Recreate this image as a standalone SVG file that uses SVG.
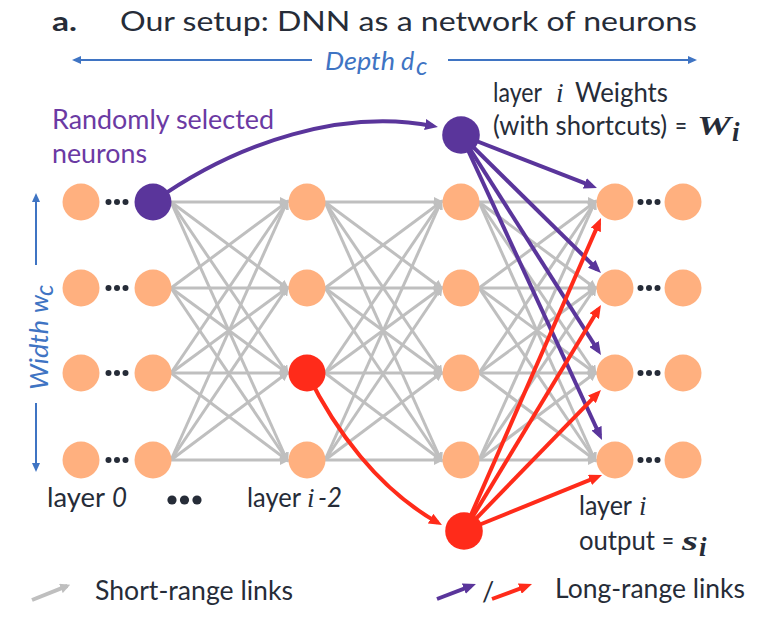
<svg xmlns="http://www.w3.org/2000/svg" width="759" height="618" viewBox="0 0 759 618">
<defs>
<style>
.t{font-family:Lato,"Liberation Sans",sans-serif;fill:#262C38;font-size:27px}
.m{font-family:"Liberation Serif","DejaVu Serif",serif;font-style:italic}
.b{font-weight:bold}
.pt{fill:#6B3AA3}
.bt{fill:#3F74C3;font-style:italic;font-size:25px}
.o{fill:#FFB07F}
.pn{fill:#5A359B}
.rn{fill:#FF2B1A}
.dot{fill:#262C38}
.g line{stroke:#BFBFBF;stroke-width:3;marker-end:url(#ag)}
.pl{stroke:#5A359B;stroke-width:4;fill:none;marker-end:url(#ap)}
.rl{stroke:#FF2B1A;stroke-width:4;fill:none;marker-end:url(#ar)}
.bl{stroke:#3F74C3;stroke-width:2;fill:none}
</style>
<marker id="ag" viewBox="0 0 10 10" refX="7" refY="5" markerWidth="10" markerHeight="10" markerUnits="userSpaceOnUse" orient="auto"><path d="M0,0 L10,5 L0,10 z" fill="#BFBFBF"/></marker>
<marker id="ap" viewBox="0 0 13 11" refX="8" refY="5.5" markerWidth="13" markerHeight="11" markerUnits="userSpaceOnUse" orient="auto"><path d="M0,0 L13,5.5 L0,11 z" fill="#5A359B"/></marker>
<marker id="ar" viewBox="0 0 13 11" refX="8" refY="5.5" markerWidth="13" markerHeight="11" markerUnits="userSpaceOnUse" orient="auto"><path d="M0,0 L13,5.5 L0,11 z" fill="#FF2B1A"/></marker>
<marker id="ab" viewBox="0 0 9 8" refX="7" refY="4" markerWidth="9" markerHeight="8" markerUnits="userSpaceOnUse" orient="auto-start-reverse"><path d="M0,0 L9,4 L0,8 z" fill="#3F74C3"/></marker>
</defs>
<rect width="759" height="618" fill="#fff"/>

<g id="title">
<text class="t b" x="52" y="31" font-size="32" textLength="25" lengthAdjust="spacingAndGlyphs">a.</text>
<text class="t" x="120" y="31" font-size="32" textLength="577" lengthAdjust="spacingAndGlyphs">Our setup: DNN as a network of neurons</text>
</g>

<g id="depth">
<line class="bl" x1="74" y1="60" x2="312" y2="60" marker-start="url(#ab)"/>
<line class="bl" x1="448" y1="60" x2="695" y2="60" marker-end="url(#ab)"/>
<text class="t bt" x="325" y="70" textLength="70" lengthAdjust="spacingAndGlyphs">Depth</text>
<text class="t bt" x="401" y="70">d</text>
<text class="t bt" x="416" y="75" font-size="17">c</text>
</g>

<g id="width">
<line class="bl" x1="36" y1="265" x2="36" y2="195" marker-end="url(#ab)"/>
<line class="bl" x1="36" y1="403" x2="36" y2="470" marker-end="url(#ab)"/>
<g transform="translate(48,390) rotate(-90)">
<text class="t bt" x="0" y="0" textLength="70" lengthAdjust="spacingAndGlyphs">Width</text>
<text class="t bt" x="77" y="0">w</text>
<text class="t bt" x="94" y="5" font-size="17">c</text>
</g>
</g>

<g id="connectors">
<g class="g">
<line x1="171" y1="202" x2="287" y2="202"/><line x1="171" y1="202" x2="287" y2="288"/><line x1="171" y1="202" x2="287" y2="373"/><line x1="171" y1="202" x2="287" y2="460"/>
<line x1="171" y1="288" x2="287" y2="202"/><line x1="171" y1="288" x2="287" y2="288"/><line x1="171" y1="288" x2="287" y2="373"/><line x1="171" y1="288" x2="287" y2="460"/>
<line x1="171" y1="373" x2="287" y2="202"/><line x1="171" y1="373" x2="287" y2="288"/><line x1="171" y1="373" x2="287" y2="373"/><line x1="171" y1="373" x2="287" y2="460"/>
<line x1="171" y1="460" x2="287" y2="202"/><line x1="171" y1="460" x2="287" y2="288"/><line x1="171" y1="460" x2="287" y2="373"/><line x1="171" y1="460" x2="287" y2="460"/>

<line x1="325" y1="202" x2="441" y2="202"/><line x1="325" y1="202" x2="441" y2="288"/><line x1="325" y1="202" x2="441" y2="373"/><line x1="325" y1="202" x2="441" y2="460"/>
<line x1="325" y1="288" x2="441" y2="202"/><line x1="325" y1="288" x2="441" y2="288"/><line x1="325" y1="288" x2="441" y2="373"/><line x1="325" y1="288" x2="441" y2="460"/>
<line x1="325" y1="373" x2="441" y2="202"/><line x1="325" y1="373" x2="441" y2="288"/><line x1="325" y1="373" x2="441" y2="373"/><line x1="325" y1="373" x2="441" y2="460"/>
<line x1="325" y1="460" x2="441" y2="202"/><line x1="325" y1="460" x2="441" y2="288"/><line x1="325" y1="460" x2="441" y2="373"/><line x1="325" y1="460" x2="441" y2="460"/>

<line x1="479" y1="202" x2="595" y2="202"/><line x1="479" y1="202" x2="595" y2="288"/><line x1="479" y1="202" x2="595" y2="373"/><line x1="479" y1="202" x2="595" y2="460"/>
<line x1="479" y1="288" x2="595" y2="202"/><line x1="479" y1="288" x2="595" y2="288"/><line x1="479" y1="288" x2="595" y2="373"/><line x1="479" y1="288" x2="595" y2="460"/>
<line x1="479" y1="373" x2="595" y2="202"/><line x1="479" y1="373" x2="595" y2="288"/><line x1="479" y1="373" x2="595" y2="373"/><line x1="479" y1="373" x2="595" y2="460"/>
<line x1="479" y1="460" x2="595" y2="202"/><line x1="479" y1="460" x2="595" y2="288"/><line x1="479" y1="460" x2="595" y2="373"/><line x1="479" y1="460" x2="595" y2="460"/>
</g>
</g>

<g id="nodes">
<g id="n0_0"><circle class="o" cx="81" cy="202" r="18.5"/></g>
<g id="n0_1"><circle class="o" cx="81" cy="288" r="18.5"/></g>
<g id="n0_2"><circle class="o" cx="81" cy="373" r="18.5"/></g>
<g id="n0_3"><circle class="o" cx="81" cy="460" r="18.5"/></g>
<g id="n1_1"><circle class="o" cx="153" cy="288" r="18.5"/></g>
<g id="n1_2"><circle class="o" cx="153" cy="373" r="18.5"/></g>
<g id="n1_3"><circle class="o" cx="153" cy="460" r="18.5"/></g>
<g id="n2_0"><circle class="o" cx="307" cy="202" r="18.5"/></g>
<g id="n2_1"><circle class="o" cx="307" cy="288" r="18.5"/></g>
<g id="n2_3"><circle class="o" cx="307" cy="460" r="18.5"/></g>
<g id="n3_0"><circle class="o" cx="461" cy="202" r="18.5"/></g>
<g id="n3_1"><circle class="o" cx="461" cy="288" r="18.5"/></g>
<g id="n3_2"><circle class="o" cx="461" cy="373" r="18.5"/></g>
<g id="n3_3"><circle class="o" cx="461" cy="460" r="18.5"/></g>
<g id="n4_0"><circle class="o" cx="615" cy="202" r="18.5"/></g>
<g id="n4_1"><circle class="o" cx="615" cy="288" r="18.5"/></g>
<g id="n4_2"><circle class="o" cx="615" cy="373" r="18.5"/></g>
<g id="n4_3"><circle class="o" cx="615" cy="460" r="18.5"/></g>
<g id="n5_0"><circle class="o" cx="683" cy="202" r="18.5"/></g>
<g id="n5_1"><circle class="o" cx="683" cy="288" r="18.5"/></g>
<g id="n5_2"><circle class="o" cx="683" cy="373" r="18.5"/></g>
<g id="n5_3"><circle class="o" cx="683" cy="460" r="18.5"/></g>
</g>

<g id="long-range">
<path class="pl" d="M153,202 C240,140 345,109 433,126"/>
<line class="pl" x1="461" y1="135" x2="592.3" y2="186.2"/>
<line class="pl" x1="461" y1="135" x2="597.4" y2="269.5"/>
<line class="pl" x1="461" y1="135" x2="598.3" y2="350.8"/>
<line class="pl" x1="461" y1="135" x2="599.9" y2="435.5"/>
<path class="rl" d="M307,373 C335,430 378,489 437.6,522.5"/>
<line class="rl" x1="464" y1="531" x2="599" y2="222.6"/>
<line class="rl" x1="464" y1="531" x2="598.4" y2="309.3"/>
<line class="rl" x1="464" y1="531" x2="597.5" y2="393.6"/>
<line class="rl" x1="464" y1="531" x2="597.4" y2="476.9"/>
</g>

<g id="n1_0"><circle class="pn" cx="153" cy="202" r="18.5"/></g>
<g id="n2_2"><circle class="rn" cx="307" cy="373" r="18.5"/></g>
<g id="wnode"><circle class="pn" cx="461" cy="135" r="18.8"/></g>
<g id="snode"><circle class="rn" cx="464" cy="531" r="18.8"/></g>

<g id="dots">
<circle class="dot" cx="108.5" cy="202" r="3"/><circle class="dot" cx="117" cy="202" r="3"/><circle class="dot" cx="125.5" cy="202" r="3"/>
<circle class="dot" cx="108.5" cy="288" r="3"/><circle class="dot" cx="117" cy="288" r="3"/><circle class="dot" cx="125.5" cy="288" r="3"/>
<circle class="dot" cx="108.5" cy="373" r="3"/><circle class="dot" cx="117" cy="373" r="3"/><circle class="dot" cx="125.5" cy="373" r="3"/>
<circle class="dot" cx="108.5" cy="460" r="3"/><circle class="dot" cx="117" cy="460" r="3"/><circle class="dot" cx="125.5" cy="460" r="3"/>
<circle class="dot" cx="640.5" cy="202" r="3"/><circle class="dot" cx="649" cy="202" r="3"/><circle class="dot" cx="657.5" cy="202" r="3"/>
<circle class="dot" cx="640.5" cy="288" r="3"/><circle class="dot" cx="649" cy="288" r="3"/><circle class="dot" cx="657.5" cy="288" r="3"/>
<circle class="dot" cx="640.5" cy="373" r="3"/><circle class="dot" cx="649" cy="373" r="3"/><circle class="dot" cx="657.5" cy="373" r="3"/>
<circle class="dot" cx="640.5" cy="460" r="3"/><circle class="dot" cx="649" cy="460" r="3"/><circle class="dot" cx="657.5" cy="460" r="3"/>
<circle class="dot" cx="172" cy="500" r="4.6"/><circle class="dot" cx="184.5" cy="500" r="4.6"/><circle class="dot" cx="197" cy="500" r="4.6"/>
</g>

<g id="labels">
<text class="t pt" x="52" y="129" textLength="222" lengthAdjust="spacingAndGlyphs">Randomly selected</text>
<text class="t pt" x="52" y="163" textLength="95" lengthAdjust="spacingAndGlyphs">neurons</text>

<text class="t" x="493" y="102" textLength="49" lengthAdjust="spacingAndGlyphs">layer</text>
<text class="t m" x="556" y="102" font-size="28">i</text>
<text class="t" x="575" y="102" textLength="93" lengthAdjust="spacingAndGlyphs">Weights</text>
<text class="t" x="493" y="135" textLength="174" lengthAdjust="spacingAndGlyphs">(with shortcuts)</text>
<text class="t" x="675" y="135" textLength="12" lengthAdjust="spacingAndGlyphs">=</text>
<text class="t m b" x="697" y="135" font-size="27" textLength="34" lengthAdjust="spacingAndGlyphs">W</text>
<text class="t m b" x="732" y="141" font-size="19">i</text>

<text class="t" x="47" y="507" textLength="58" lengthAdjust="spacingAndGlyphs">layer</text>
<text class="t" x="112" y="507" font-style="italic" textLength="15" lengthAdjust="spacingAndGlyphs">0</text>
<text class="t" x="247" y="507" textLength="54" lengthAdjust="spacingAndGlyphs">layer</text>
<text class="t m" x="307" y="507" font-size="28">i</text>
<text class="t" x="318" y="507" font-style="italic" textLength="24" lengthAdjust="spacingAndGlyphs">-2</text>

<text class="t" x="579" y="515" textLength="53" lengthAdjust="spacingAndGlyphs">layer</text>
<text class="t m" x="639" y="515" font-size="28">i</text>
<text class="t" x="579" y="550" textLength="76" lengthAdjust="spacingAndGlyphs">output</text>
<text class="t" x="662" y="550" textLength="12" lengthAdjust="spacingAndGlyphs">=</text>
<text class="t m b" x="682" y="550" font-size="28" textLength="16" lengthAdjust="spacingAndGlyphs">s</text>
<text class="t m b" x="699" y="556" font-size="19">i</text>
</g>

<g id="legend">
<line x1="32" y1="600" x2="67.4" y2="585.9" stroke="#BFBFBF" stroke-width="4" marker-end="url(#ag)"/>
<text class="t" x="95" y="600" textLength="198" lengthAdjust="spacingAndGlyphs">Short-range links</text>
<line class="pl" x1="437" y1="599" x2="471.3" y2="585.8"/>
<text class="t" x="482" y="601">/</text>
<line class="rl" x1="492" y1="599" x2="527.3" y2="585.8"/>
<text class="t" x="555" y="598" textLength="190" lengthAdjust="spacingAndGlyphs">Long-range links</text>
</g>
</svg>
